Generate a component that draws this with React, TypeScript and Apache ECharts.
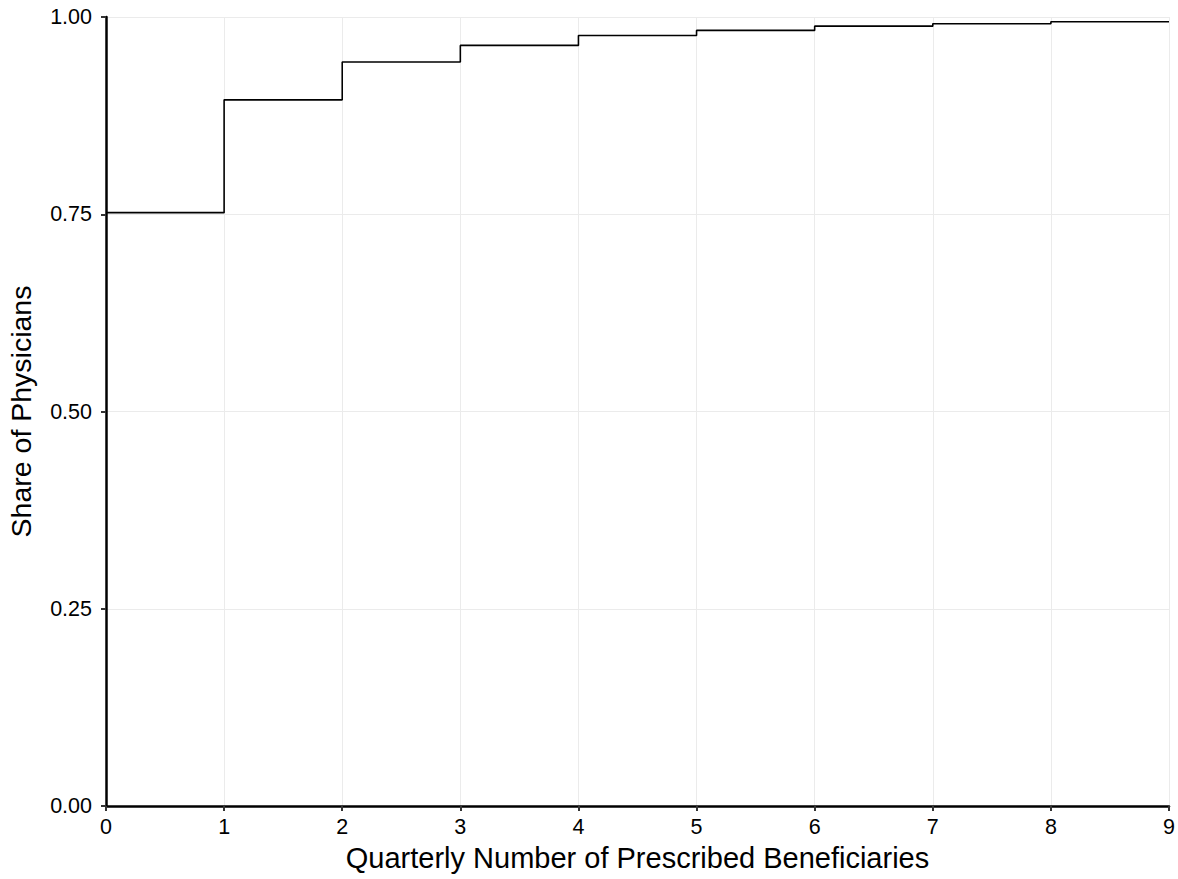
import React, { useEffect, useRef } from "react";
import * as echarts from "echarts";

const xValues = [0, 1, 2, 3, 4, 5, 6, 7, 8, 9];
const shareValues = [0.752, 0.895, 0.943, 0.964, 0.9765, 0.983, 0.9884, 0.9914, 0.9939, 0.9939];
const yTickLabels = ["0.00", "0.25", "0.50", "0.75", "1.00"];

const FONT = "'Liberation Sans', Helvetica, Arial, sans-serif";

export default function App() {
  const ref = useRef<HTMLDivElement>(null);
  useEffect(() => {
    if (!ref.current) return;
    const chart = echarts.init(ref.current, undefined, { renderer: "svg" });
    chart.setOption({
      animation: false,
      backgroundColor: "#ffffff",
      grid: { left: 106, right: 9, top: 17, bottom: 73, containLabel: false, outerBoundsMode: "none" },
      xAxis: {
        type: "value",
        min: 0,
        max: 9,
        interval: 1,
        name: "Quarterly Number of Prescribed Beneficiaries",
        nameLocation: "middle",
        nameGap: 37,
        nameTextStyle: { color: "#000", fontSize: 29, fontFamily: FONT },
        axisLine: { show: true, lineStyle: { color: "#000", width: 2.5 } },
        axisTick: { show: true, length: 5, lineStyle: { color: "#333", width: 2 } },
        axisLabel: { color: "#000", fontSize: 21.5, fontFamily: FONT, margin: 10 },
        splitLine: { show: true, lineStyle: { color: "#ebebeb", width: 1 } },
      },
      yAxis: {
        type: "value",
        min: 0,
        max: 1,
        interval: 0.25,
        name: "Share of Physicians",
        nameLocation: "middle",
        nameGap: 71,
        nameTextStyle: { color: "#000", fontSize: 28.5, fontFamily: FONT },
        axisLine: { show: true, lineStyle: { color: "#000", width: 2.5 } },
        axisTick: { show: true, length: 5, lineStyle: { color: "#333", width: 2 } },
        axisLabel: {
          color: "#000",
          fontSize: 21.5,
          fontFamily: FONT,
          margin: 14,
          formatter: (v: number) => yTickLabels[Math.round(v / 0.25)] ?? v.toFixed(2),
        },
        splitLine: { show: true, lineStyle: { color: "#ebebeb", width: 1 } },
      },
      series: [
        {
          type: "line",
          step: "end",
          data: xValues.map((x, i) => [x, shareValues[i]]),
          showSymbol: false,
          lineStyle: { color: "#000", width: 1.6 },
        },
      ],
    });
    return () => chart.dispose();
  }, []);
  return <div ref={ref} style={{ width: 1178, height: 879, position: "absolute", left: 0, top: 0 }} />;
}
